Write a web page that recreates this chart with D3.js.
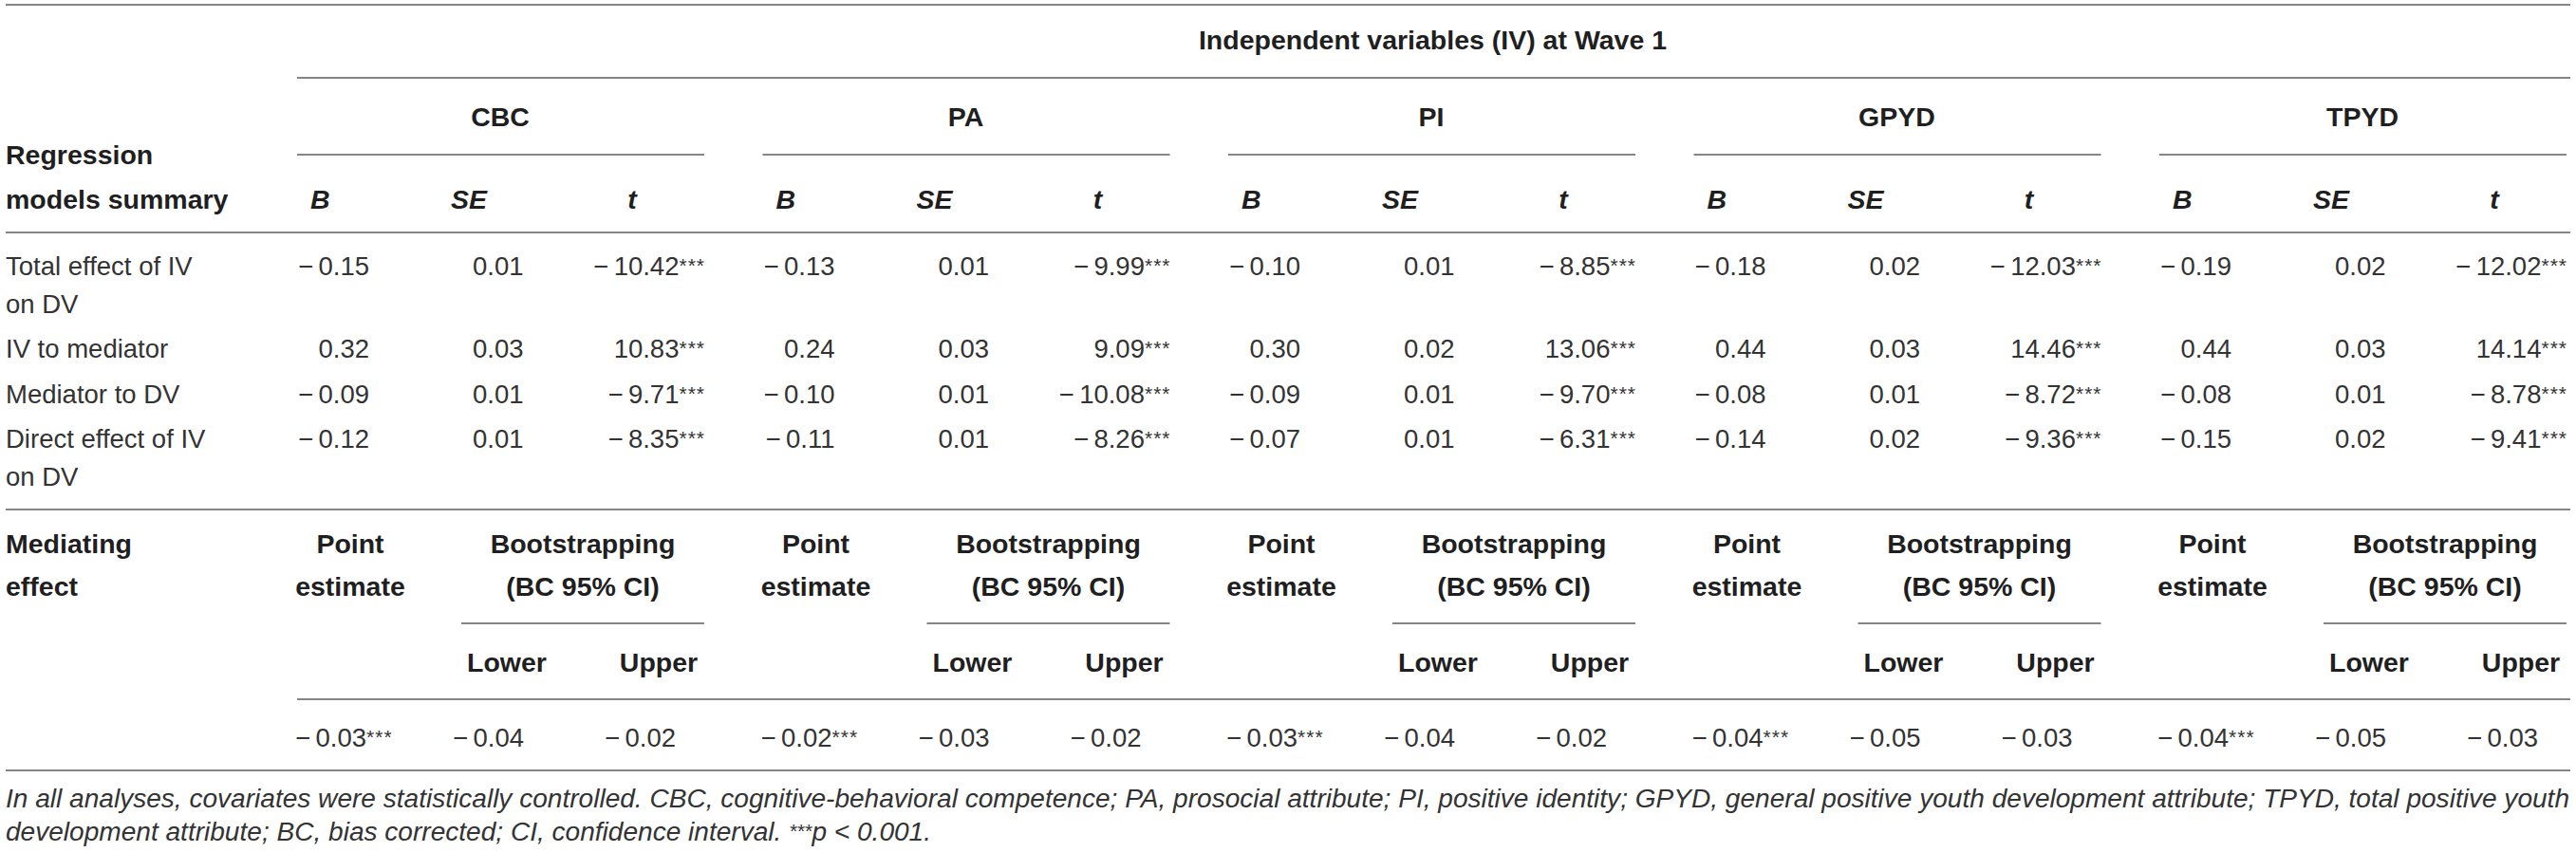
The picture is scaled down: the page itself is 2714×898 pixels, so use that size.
<!DOCTYPE html>
<html>
<head>
<meta charset="utf-8">
<script src="https://cdn.jsdelivr.net/npm/d3@7"></script>
<style>
  html, body { margin: 0; padding: 0; background: #fff; }
  svg { display: block; }
</style>
</head>
<body>
<svg id="chart" width="2714" height="898"></svg>
<script>
// ---------- DATA ----------
const superHeader = "Independent variables (IV) at Wave 1";
const groups = ["CBC", "PA", "PI", "GPYD", "TPYD"];
const statHeaders = ["B", "SE", "t"];
const rowLabels = [
  ["Total effect of IV", "on DV"],
  ["IV to mediator"],
  ["Mediator to DV"],
  ["Direct effect of IV", "on DV"]
];
// rows x groups
const valB = [
  [-0.15, -0.13, -0.10, -0.18, -0.19],
  [0.32, 0.24, 0.30, 0.44, 0.44],
  [-0.09, -0.10, -0.09, -0.08, -0.08],
  [-0.12, -0.11, -0.07, -0.14, -0.15]
];
const valSE = [
  [0.01, 0.01, 0.01, 0.02, 0.02],
  [0.03, 0.03, 0.02, 0.03, 0.03],
  [0.01, 0.01, 0.01, 0.01, 0.01],
  [0.01, 0.01, 0.01, 0.02, 0.02]
];
const valT = [
  [-10.42, -9.99, -8.85, -12.03, -12.02],
  [10.83, 9.09, 13.06, 14.46, 14.14],
  [-9.71, -10.08, -9.70, -8.72, -8.78],
  [-8.35, -8.26, -6.31, -9.36, -9.41]
];
const pointEst = [-0.03, -0.02, -0.03, -0.04, -0.04];
const ciLower = [-0.04, -0.03, -0.04, -0.05, -0.05];
const ciUpper = [-0.02, -0.02, -0.02, -0.03, -0.03];
const sigStars = "***";
const summaryLabel = ["Regression", "models summary"];
const mediatingLabel = ["Mediating", "effect"];
const pointLabel = ["Point", "estimate"];
const bootLabel = ["Bootstrapping", "(BC 95% CI)"];
const ciLabels = ["Lower", "Upper"];
const footLine1 = "In all analyses, covariates were statistically controlled. CBC, cognitive-behavioral competence; PA, prosocial attribute; PI, positive identity; GPYD, general positive youth development attribute; TPYD, total positive youth";
const footLine2a = "development attribute; BC, bias corrected; CI, confidence interval. ";
const footLine2b = "p < 0.001.";

// ---------- LAYOUT ----------
const W = 2714, L = 6, R = 2708;
const svg = d3.select("#chart");
const FONT = "'Liberation Sans', Arial, Helvetica, sans-serif";
const FS = 27.5, FSB = 28.5;
const REG = "#333", BOLD = "#1f1f1f", LINE = "#858585";

const gx = d3.scaleLinear().domain([0, groups.length - 1]).range([313, 2275]);
const rowY = d3.scaleOrdinal().domain([0, 1, 2, 3]).range([280, 367, 415, 462]);
const wrapGap = 40;

const fmt = v => (v < 0 ? "\u2212\u2009" : "") + d3.format(".2f")(Math.abs(v));
const base = (yc, fs) => yc + 0.36 * fs;

function hline(x1, x2, y) {
  svg.append("line").attr("x1", x1).attr("x2", x2).attr("y1", y).attr("y2", y)
    .attr("stroke", LINE).attr("stroke-width", 2);
}
function txt(x, yc, s, opt = {}) {
  const fs = opt.bold ? FSB : FS;
  return svg.append("text")
    .attr("x", x).attr("y", base(yc, fs))
    .attr("font-family", FONT)
    .attr("font-size", fs)
    .attr("font-weight", opt.bold ? 700 : 400)
    .attr("font-style", opt.italic ? "italic" : "normal")
    .attr("text-anchor", opt.anchor || "start")
    .attr("fill", opt.bold ? BOLD : REG)
    .text(s);
}
function txtStars(x, yc, s, anchor) {
  const t = svg.append("text")
    .attr("x", x).attr("y", base(yc, FS))
    .attr("font-family", FONT).attr("font-size", FS)
    .attr("text-anchor", anchor).attr("fill", REG);
  t.append("tspan").text(s);
  t.append("tspan").attr("font-size", 21).attr("dy", -3).attr("letter-spacing", 1).text(sigStars);
  return t;
}

// rules
hline(L, R, 5);
hline(gx(0), R, 82);
groups.forEach((g, i) => hline(gx(i), gx(i) + 429, 163));
hline(L, R, 245);
hline(L, R, 537);
groups.forEach((g, i) => hline(gx(i) + 173, gx(i) + 429, 657));
hline(gx(0), R, 737);
hline(L, R, 812);

// super header
txt((gx(0) + R) / 2 - 1, 42, superHeader, { bold: true, anchor: "middle" });

// group labels and stat headers
groups.forEach((g, i) => {
  const x0 = gx(i);
  txt(x0 + 214, 123, g, { bold: true, anchor: "middle" });
  txt(x0 + 14, 210, statHeaders[0], { bold: true, italic: true, anchor: "start" });
  txt(x0 + 181, 210, statHeaders[1], { bold: true, italic: true, anchor: "middle" });
  txt(x0 + 353, 210, statHeaders[2], { bold: true, italic: true, anchor: "middle" });
});

// left header
txt(L, 163, summaryLabel[0], { bold: true });
txt(L, 210, summaryLabel[1], { bold: true });

// regression rows
rowLabels.forEach((lines, r) => {
  lines.forEach((s, k) => txt(L, rowY(r) + k * wrapGap, s));
  groups.forEach((g, i) => {
    const x0 = gx(i);
    txt(x0 + 76, rowY(r), fmt(valB[r][i]), { anchor: "end" });
    txt(x0 + 185, rowY(r), fmt(valSE[r][i]), { anchor: "start" });
    txtStars(x0 + 430, rowY(r), fmt(valT[r][i]), "end");
  });
});

// mediation section
txt(L, 573, mediatingLabel[0], { bold: true });
txt(L, 618, mediatingLabel[1], { bold: true });
groups.forEach((g, i) => {
  const x0 = gx(i);
  txt(x0 + 56, 573, pointLabel[0], { bold: true, anchor: "middle" });
  txt(x0 + 56, 618, pointLabel[1], { bold: true, anchor: "middle" });
  txt(x0 + 301, 573, bootLabel[0], { bold: true, anchor: "middle" });
  txt(x0 + 301, 618, bootLabel[1], { bold: true, anchor: "middle" });
  txt(x0 + 221, 698, ciLabels[0], { bold: true, anchor: "middle" });
  txt(x0 + 381, 698, ciLabels[1], { bold: true, anchor: "middle" });
  txtStars(x0 - 2, 777, fmt(pointEst[i]), "start");
  txt(x0 + 164, 777, fmt(ciLower[i]), { anchor: "start" });
  txt(x0 + 324, 777, fmt(ciUpper[i]), { anchor: "start" });
});

// footnote
const FFS = 27;
const f1 = svg.append("text")
  .attr("font-family", FONT).attr("font-size", FFS).attr("font-style", "italic")
  .attr("fill", REG).text(footLine1);
const natural = f1.node().getComputedTextLength();
const k = (R - L) / natural;
f1.attr("transform", `translate(${L},${base(841, FFS)}) scale(${k},1)`);
const f2 = svg.append("text")
  .attr("font-family", FONT).attr("font-size", FFS).attr("font-style", "italic")
  .attr("fill", REG)
  .attr("transform", `translate(${L},${base(876, FFS)}) scale(${k},1)`);
f2.append("tspan").text(footLine2a);
f2.append("tspan").attr("font-size", 20).attr("dy", -3).text(sigStars);
f2.append("tspan").attr("dy", 3).text(footLine2b);
</script>
</body>
</html>
